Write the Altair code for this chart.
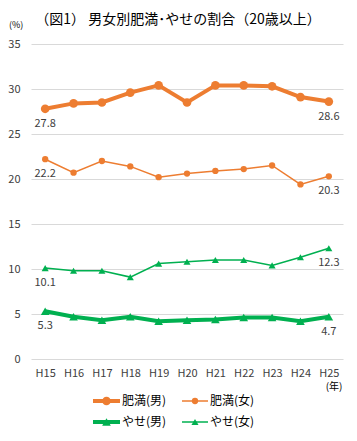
import altair as alt
import pandas as pd

years = ["H15", "H16", "H17", "H18", "H19", "H20", "H21", "H22", "H23", "H24", "H25"]
obese_m = [27.8, 28.4, 28.5, 29.6, 30.4, 28.5, 30.4, 30.4, 30.3, 29.1, 28.6]
obese_f = [22.2, 20.7, 22.0, 21.4, 20.2, 20.6, 20.9, 21.1, 21.5, 19.4, 20.3]
thin_m = [5.3, 4.7, 4.3, 4.7, 4.2, 4.3, 4.4, 4.6, 4.6, 4.2, 4.7]
thin_f = [10.1, 9.8, 9.8, 9.1, 10.6, 10.8, 11.0, 11.0, 10.4, 11.3, 12.3]
series_names = ["肥満(男)", "肥満(女)", "やせ(男)", "やせ(女)"]
series_values = [obese_m, obese_f, thin_m, thin_f]

ORANGE = "#ED7D31"
GREEN = "#00B050"
FONT = "Noto Sans CJK JP"
TXT = "#404040"

styles = {
    "肥満(男)": dict(color=ORANGE, sw=4, shape="circle", size=75),
    "肥満(女)": dict(color=ORANGE, sw=1.5, shape="circle", size=40),
    "やせ(男)": dict(color=GREEN, sw=4, shape="triangle-up", size=75),
    "やせ(女)": dict(color=GREEN, sw=1.5, shape="triangle-up", size=50),
}

rows = []
for name, vals in zip(series_names, series_values):
    for y, v in zip(years, vals):
        rows.append({"year": y, "value": v, "series": name})
df = pd.DataFrame(rows)

xenc = alt.X("year:N", sort=years, scale=alt.Scale(paddingOuter=0.5),
             axis=alt.Axis(title=None, labelAngle=0, ticks=False, domain=False,
                           labelFontSize=11, labelColor=TXT, labelFont=FONT, labelPadding=8))
yenc = alt.Y("value:Q", scale=alt.Scale(domain=[0, 35]),
             axis=alt.Axis(title=None, values=[0, 5, 10, 15, 20, 25, 30, 35], ticks=False,
                           domain=False, gridColor="#D9D9D9", labelFontSize=11,
                           labelColor=TXT, labelFont=FONT, labelPadding=11))

layers = []
order = ["肥満(女)", "やせ(女)", "肥満(男)", "やせ(男)"]
for name in order:
    st = styles[name]
    sub = df[df.series == name]
    base = alt.Chart(sub)
    layers.append(base.mark_line(color=st["color"], strokeWidth=st["sw"]).encode(x=xenc, y=yenc))
    layers.append(base.mark_point(color=st["color"], filled=True, opacity=1, shape=st["shape"],
                                  size=st["size"]).encode(x=xenc, y=yenc))
    ends = sub[sub.year.isin([years[0], years[-1]])]
    layers.append(alt.Chart(ends).mark_text(dy=15, fontSize=11, color=TXT, font=FONT).encode(
        x=xenc, y=yenc, text=alt.Text("value:Q", format=".1f")))

# title and unit labels
layers.append(alt.Chart(pd.DataFrame({"t": ["（図1） 男女別肥満･やせの割合（20歳以上）"]})).mark_text(
    fontSize=14, color="#000000", font=FONT, align="center").encode(
    x=alt.value(147), y=alt.value(-24), text="t:N"))
layers.append(alt.Chart(pd.DataFrame({"t": ["(%)"]})).mark_text(
    fontSize=9, color="#000000", font=FONT, align="left").encode(
    x=alt.value(-22), y=alt.value(-19), text="t:N"))
layers.append(alt.Chart(pd.DataFrame({"t": ["(年)"]})).mark_text(
    fontSize=10, color="#000000", font=FONT, align="center").encode(
    x=alt.value(303), y=alt.value(343), text="t:N"))

# custom legend
leg_pos = {
    "肥満(男)": (62, 89, 357),
    "肥満(女)": (151, 177, 357),
    "やせ(男)": (62, 89, 378),
    "やせ(女)": (151, 177, 378),
}
for name in series_names:
    st = styles[name]
    x1, x2, ly = leg_pos[name]
    d = pd.DataFrame({"t": [name]})
    layers.append(alt.Chart(d).mark_rule(color=st["color"], strokeWidth=st["sw"]).encode(
        x=alt.value(x1), x2=alt.value(x2), y=alt.value(ly)))
    layers.append(alt.Chart(d).mark_point(color=st["color"], filled=True, opacity=1,
                                          shape=st["shape"], size=st["size"]).encode(
        x=alt.value((x1 + x2) / 2), y=alt.value(ly)))
    layers.append(alt.Chart(d).mark_text(align="left", fontSize=12, color="#000000", font=FONT).encode(
        x=alt.value(x2 + 2), y=alt.value(ly), text="t:N"))

chart = alt.layer(*layers).properties(
    width=312, height=315,
    autosize=alt.AutoSizeParams(type="none"),
    padding={"left": 23, "top": 36, "right": 6, "bottom": 74},
    background="white",
).configure_view(stroke=None)

chart.save("out.html", embed_options={"renderer": "svg", "actions": False})
